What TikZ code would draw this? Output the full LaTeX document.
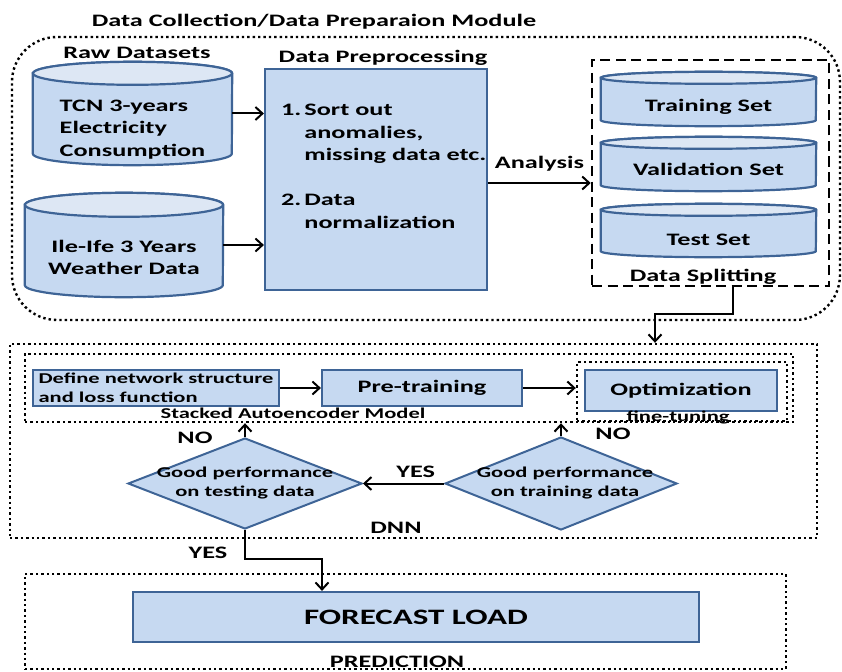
\documentclass[tikz,border=0pt]{standalone}
\usepackage{fontspec}
\setmainfont{Carlito}[FakeStretch=1.5]
\usepackage{tikz}
\usetikzlibrary{positioning}
\usetikzlibrary{arrows.meta,shapes.geometric}
\definecolor{boxfill}{RGB}{198,217,241}
\definecolor{boxtop}{RGB}{221,231,244}
\definecolor{boxline}{RGB}{62,100,150}
\tikzstyle{stage}=[rectangle,draw=boxline,fill=boxfill,line width=2.2pt,inner sep=0pt,font=\fontsize{17.5}{22.5}\selectfont\bfseries]
\tikzstyle{slot}=[rectangle,inner sep=0pt]
\tikzstyle{dbody}=[draw=boxline,fill=boxfill,line width=2.2pt]
\tikzstyle{dtop}=[draw=boxline,fill=boxtop,line width=2.2pt]
\tikzstyle{decision}=[diamond,draw=boxline,fill=boxfill,line width=2pt,inner sep=0pt]
\tikzstyle{dotframe}=[rectangle,draw,line width=2.4pt,dash pattern=on 2.4pt off 3pt,inner sep=0pt]
\tikzstyle{dashframe}=[rectangle,draw,line width=2.6pt,dash pattern=on 10pt off 5.5pt,inner sep=0pt]
\tikzstyle{edge}=[draw,line width=2pt,-{Straight Barb[length=7pt,width=13pt]}]
\tikzstyle{heading}=[inner sep=0pt,anchor=base,font=\fontsize{17.5}{22.5}\selectfont\bfseries]
\tikzstyle{smallheading}=[inner sep=0pt,anchor=base,font=\fontsize{15}{19}\selectfont\bfseries]

\begin{document}
\begin{tikzpicture}[x=1pt,y=-1pt]
  \useasboundingbox (0,0) rectangle (842,671);
  % Module frames
  \node[dotframe,rounded corners=45pt,minimum width=828pt,minimum height=283pt] (module) at (426,178.5) {};
  \node[dashframe,minimum width=237pt,minimum height=226pt] (split) at (710.5,173) {};
  \foreach \pos/\name/\w/\h in {{(413.5,441)/dnn/807pt/194pt}, {(409,388)/sae/768pt/68pt}, {(682,391.5)/tune/210pt/59pt}, {(405.5,621.5)/pred/761pt/95pt}}
    \node[dotframe,minimum width=\w,minimum height=\h] (\name) at \pos {};

  % Datasets drawn as cylinders
  \foreach \pos/\name/\w/\h/\r in {{(132.5,113.5)/tcn/199pt/103pt/11.5pt}, {(124,245)/ile/198pt/104pt/12pt}, {(708.5,99)/train/215pt/54pt/6pt}, {(708.5,164)/valid/215pt/54pt/6pt}, {(708.5,230.5)/test/215pt/53pt/6pt}}
  {
    \node[slot,minimum width=\w,minimum height=\h] (\name) at \pos {};
    \path[dbody] ([yshift=-\r]\name.north west) -- ([yshift=\r]\name.south west)
      arc[start angle=180,end angle=360,x radius=\w/2,y radius=\r]
      -- ([yshift=-\r]\name.north east)
      arc[start angle=0,end angle=180,x radius=\w/2,y radius=\r] -- cycle;
    \path[dtop] ([yshift=-\r]\name.north) ellipse[x radius=\w/2,y radius=\r];
  }
  \node[heading,anchor=center,align=left] (tcn text) at ([yshift=-16pt]tcn.center) {TCN 3-years\\Electricity\\Consumption};
  \node[heading,anchor=center,align=center] (ile text) at ([yshift=-12.5pt]ile.center) {Ile-Ife 3 Years\\Weather Data};
  \foreach \name/\label/\shift in {train/Training Set/-7.5pt, valid/Validation Set/-5.5pt, test/Test Set/-9.5pt}
    \node[heading,anchor=center] (\name text) at ([yshift=\shift]\name.center) {\label};

  % Preprocessing
  \node[stage,minimum width=222pt,minimum height=221pt,
        label={[heading,anchor=north west,xshift=17pt,yshift=-32pt]north west:{\begin{tabular}{@{}l@{\hspace{3pt}}l}1.&Sort out\\&anomalies,\\&missing data etc.\\[22.5pt]2.&Data\\&normalization\end{tabular}}}] (prep) at (376,179.5) {};

  % DNN stages
  \node[stage,minimum width=246pt,minimum height=36pt,align=left,font=\fontsize{15}{19}\selectfont\bfseries] (define) at (156,388) {Define network structure\\and loss function};
  \node[stage,minimum width=200pt,minimum height=36pt] (pretrain) at (422,388) {Pre-training};
  \node[stage,minimum width=192pt,minimum height=41pt] (optim) at (681,390.5) {Optimization};
  \node[decision,minimum width=234pt,minimum height=91pt,
        label={[smallheading,anchor=center,align=center]center:{Good performance\\on testing data}}] (testing) at (245,483.5) {};
  \node[decision,minimum width=232pt,minimum height=93pt,
        label={[smallheading,anchor=center,align=center,xshift=4pt]center:{Good performance\\on training data}}] (training) at (561,483.5) {};

  % Prediction
  \node[stage,minimum width=566pt,minimum height=50pt,font=\fontsize{22}{26}\selectfont\bfseries] (forecast) at (416,617) {FORECAST LOAD};

  % Captions
  \foreach \pos/\name/\label in {{(314,27)/modcap/{Data Collection/Data Preparaion Module}}, {(137,58.5)/rawcap/Raw Datasets}, {(383,62.5)/prepcap/Data Preprocessing}, {(703,281.5)/splitcap/Data Splitting}, {(195,443)/nocapl/NO}, {(613,439)/nocapr/NO}, {(396,533)/dnncap/DNN}, {(208,558)/yescap/YES}, {(397,667)/predcap/PREDICTION}}
    \node[heading] (\name) at \pos {\label};
  \node[smallheading] (saecap) at (293,418) {Stacked Autoencoder Model};
  \node[smallheading] (tunecap) at (678,421) {fine-tuning};

  % Connect the stages
  \foreach \source/\dest in {tcn/prep, ile/prep, define/pretrain, pretrain/tune}
    \path[edge] (\source.east) -- (\source.east -| \dest.west);
  \path[edge] ([yshift=-3.5pt]prep.east) -- node[heading,yshift=15pt] {Analysis} ([yshift=-3.5pt]prep.east -| split.west);
  \path[edge] ([xshift=22.5pt]split.south) -- ++(0,27) -| ([xshift=241.5pt]dnn.north);
  \foreach \source in {testing, training}
    \path[edge] (\source.north) -- (\source.north |- sae.south);
  \path[edge] (training.west) -- node[heading,pos=0.35,yshift=6.5pt] {YES} (testing.east);
  \path[edge] (testing.south) -- ++(0,29) -| ([xshift=-94pt]forecast.north);
\end{tikzpicture}
\end{document}
